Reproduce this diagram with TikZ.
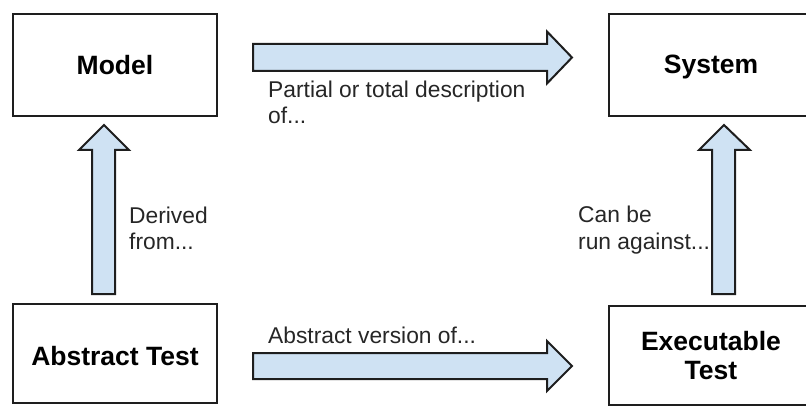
\documentclass[tikz,border=0pt]{standalone}
\usepackage{fontspec}
\setmainfont{Liberation Sans}
\definecolor{arrowfill}{HTML}{CFE2F3}
\definecolor{edge}{HTML}{1E1E1E}
\begin{document}
\begin{tikzpicture}[x=1pt,y=-1pt,
  box/.style={draw=edge,line width=2pt,fill=white},
  boxtext/.style={font=\fontsize{26.5}{29}\selectfont\bfseries,align=center,inner sep=0pt},
  blockarrow/.style={draw=edge,line width=2pt,fill=arrowfill,line join=miter},
  note/.style={font=\fontsize{22.8}{26.5}\selectfont,align=left,inner sep=0pt,anchor=north west,text=black!85}]
\useasboundingbox (0,0) rectangle (806,406);

% the four boxes
\draw[box] (13,14) rectangle (217,116);
\node[boxtext,anchor=base] (model) at (115,75) {Model};
\draw[box] (609,14) rectangle (813,116);
\node[boxtext,anchor=base] (system) at (711,74) {System};
\draw[box] (13,304) rectangle (217,403);
\node[boxtext,anchor=base] (abstract) at (115,365) {Abstract Test};
\draw[box] (609,306) rectangle (813,405);
\node[boxtext] (exec) at (711,356) {Executable\\Test};

% block arrows
\draw[blockarrow] (253,44) -- (547,44) -- (547,31.5) -- (572,57.5)
  -- (547,83.5) -- (547,71) -- (253,71) -- cycle;
\draw[blockarrow] (253,353) -- (547,353) -- (547,341) -- (572,366)
  -- (547,391) -- (547,379) -- (253,379) -- cycle;
\draw[blockarrow] (92,294) -- (92,150) -- (79,150) -- (104,125)
  -- (129,150) -- (115,150) -- (115,294) -- cycle;
\draw[blockarrow] (712,294) -- (712,150) -- (699,150) -- (724,125)
  -- (750,150) -- (735,150) -- (735,294) -- cycle;

% arrow labels
\node[note] (l1) at (268,80.5) {Partial or total description\\of...};
\node[note] (l2) at (129,206.5) {Derived\\from...};
\node[note] (l3) at (578,206) {Can be\\run against...};
\node[note] (l4) at (268,326.5) {Abstract version of...};
\end{tikzpicture}
\end{document}
